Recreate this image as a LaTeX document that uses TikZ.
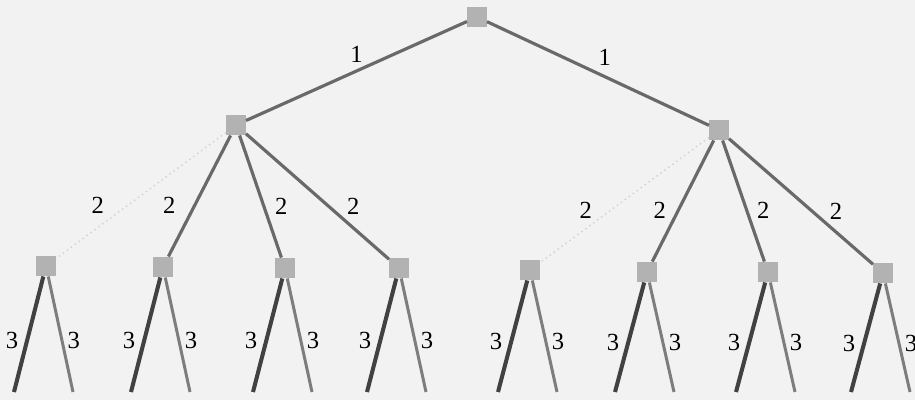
\documentclass[tikz,border=0pt]{standalone}
\usepackage{fontspec}
\setmainfont{Liberation Serif}
\usepackage{tikz}
\usetikzlibrary{positioning}

\definecolor{paper}{RGB}{242,242,242}
\definecolor{boxgray}{RGB}{178,178,178}
\definecolor{edgegray}{RGB}{105,105,105}
\definecolor{darkleg}{RGB}{65,65,65}
\definecolor{lightleg}{RGB}{125,125,125}

\begin{document}
\begin{tikzpicture}[
    x=0.02cm, y=-0.02cm,
    box/.style={fill=boxgray, minimum width=11pt, minimum height=11.5pt, inner sep=0pt},
    edge/.style={draw=edgegray, line width=1.8pt},
    faint/.style={draw=black!18, line width=0.8pt, dotted},
    legl/.style={draw=darkleg, line width=2.3pt},
    legr/.style={draw=lightleg, line width=1.7pt},
    lbl/.style={font=\fontsize{14}{16}\selectfont, inner sep=1pt}
]
    \clip (0,0) rectangle (915,400);
    \fill[paper] (0,0) rectangle (915,400);

    % nodes of the tree
    \node[box] (root) at (477,17) {};
    \node[box] (nA) at (236,125) {};
    \node[box] (nB) at (719,130) {};
    \node[box] (a1) at (46,266) {};
    \node[box] (a2) at (163,267) {};
    \node[box] (a3) at (285,268) {};
    \node[box] (a4) at (399,268) {};
    \node[box] (b1) at (530,270) {};
    \node[box] (b2) at (647,272) {};
    \node[box] (b3) at (768,272) {};
    \node[box] (b4) at (883,273) {};

    % first stage
    \draw[edge] (root) -- node[lbl, above=3pt, pos=0.5] {1} (nA);
    \draw[edge] (root) -- node[lbl, above=4.5pt, pos=0.53] {1} (nB);

    % second stage
    \draw[faint] (nA) -- node[lbl, left=12pt, pos=0.58] {2} (a1);
    \draw[edge] (nA) -- node[lbl, left=9pt, pos=0.58] {2} (a2);
    \draw[edge] (nA) -- node[lbl, right=4.5pt, pos=0.58] {2} (a3);
    \draw[edge] (nA) -- node[lbl, right=8.5pt, pos=0.58] {2} (a4);
    \draw[faint] (nB) -- node[lbl, left=9.5pt, pos=0.58] {2} (b1);
    \draw[edge] (nB) -- node[lbl, left=5pt, pos=0.58] {2} (b2);
    \draw[edge] (nB) -- node[lbl, right=4pt, pos=0.58] {2} (b3);
    \draw[edge] (nB) -- node[lbl, right=8pt, pos=0.58] {2} (b4);

    % third stage, open ends
    \foreach \n/\x in {a1/46, a2/163, a3/285, a4/399, b1/530, b2/647, b3/768, b4/883} {
        \coordinate (\n l) at (\x-32,392);
        \coordinate (\n r) at (\x+27,392);
        \draw[legl] (\n) -- node[lbl, left=3pt, pos=0.55] {3} (\n l);
        \draw[legr] (\n) -- node[lbl, right=1.5pt, pos=0.55] {3} (\n r);
    }
\end{tikzpicture}
\end{document}
